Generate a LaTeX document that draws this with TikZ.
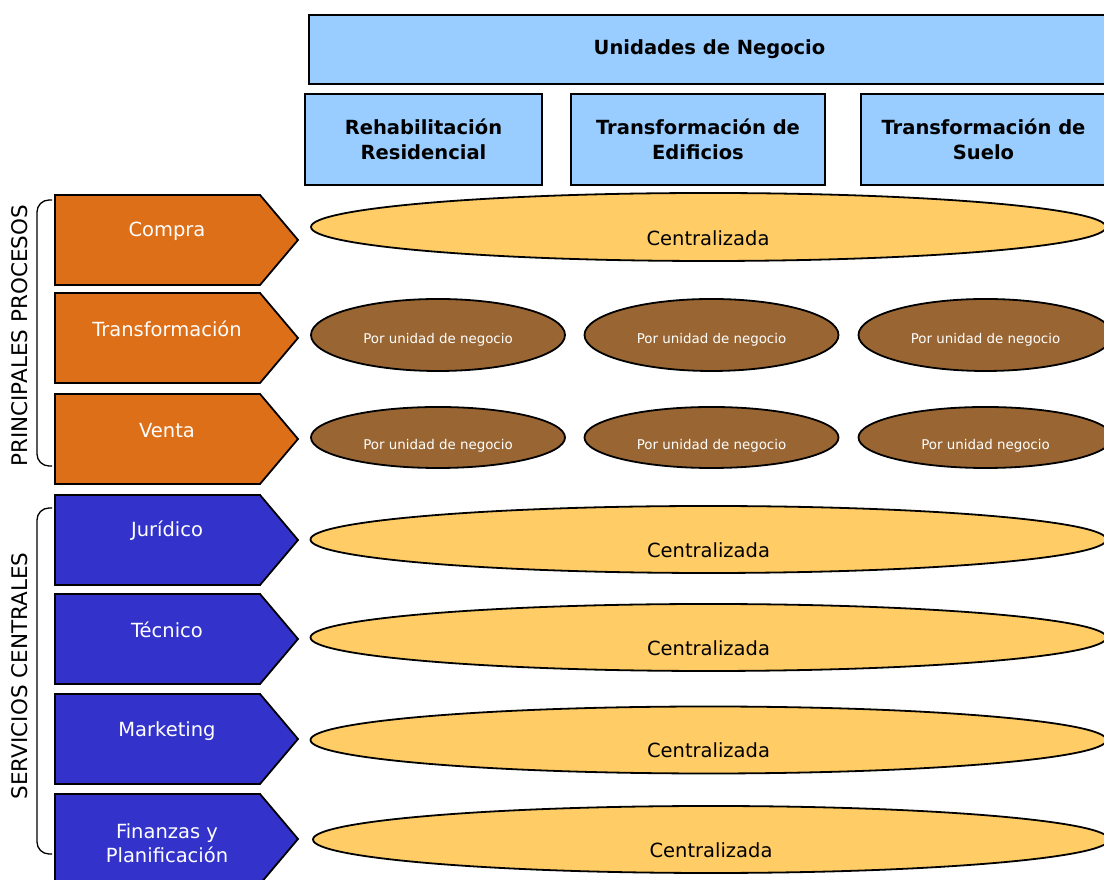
\documentclass[tikz,border=0pt]{standalone}
\usepackage{fontspec}
\setmainfont{DejaVu Sans}
\usetikzlibrary{shapes.geometric}
\definecolor{azulclaro}{HTML}{99CCFF}
\definecolor{naranja}{HTML}{DD6F19}
\definecolor{azul}{HTML}{3333CC}
\definecolor{amarillo}{HTML}{FFCC66}
\definecolor{marron}{HTML}{996633}

\begin{document}
\begin{tikzpicture}[x=1pt,y=1pt,
    unidad/.style={draw,line width=1.8pt,fill=azulclaro,align=center,font=\fontsize{19.5}{24.5}\selectfont\bfseries},
    proceso/.style={draw,line width=1.8pt,line join=miter},
    etiqueta/.style={text=white,align=center,font=\fontsize{19.5}{24.5}\selectfont},
    centr/.style={draw,line width=1.8pt,ellipse,fill=amarillo,inner sep=0pt},
    porunidad/.style={draw,line width=1.8pt,ellipse,fill=marron,inner sep=0pt,minimum width=254},
    txtcentr/.style={font=\fontsize{19.5}{24}\selectfont},
    txtunidad/.style={text=white,font=\fontsize{13.4}{16}\selectfont},
    grupo/.style={rotate=90,font=\fontsize{21.5}{26}\selectfont}]
    \useasboundingbox (0,0) rectangle (1104,880);
    \clip (0,0) rectangle (1104,880);

    \node[unidad,minimum width=801,minimum height=69] (negocio) at (709.5,830.5) {Unidades de Negocio};
    \node[unidad,minimum width=237,minimum height=91] (rehab) at (423.5,740.5) {Rehabilitación\\Residencial};
    \node[unidad,minimum width=254,minimum height=91] (edif) at (698,740.5) {Transformación de\\Edificios};
    \node[unidad,minimum width=245,minimum height=91] (suelo) at (983.5,740.5) {Transformación de\\Suelo};

    \foreach \t/\ty/\col/\nm/\txt in {685/649/naranja/compra/Compra, 587/551/naranja/transf/Transformación, 486/449/naranja/venta/Venta,
        385/349/azul/juridico/Jurídico, 286/250/azul/tecnico/Técnico, 186/149/azul/marketing/Marketing, 86/37/azul/finanzas/{Finanzas y\\Planificación}}{
        \draw[proceso,fill=\col] (55,\t) -- (260,\t) -- (298,\t-45) -- (260,\t-90) -- (55,\t-90) -- cycle;
        \node[etiqueta] (\nm) at (167,\ty) {\txt};
    }

    \draw[line width=1.3pt,rounded corners=12] (52,680) -- (37,680) -- (37,414) -- (52,414);
    \node[grupo] (principales) at (20,544) {PRINCIPALES PROCESOS};
    \draw[line width=1.3pt,rounded corners=12] (52,372) -- (37,372) -- (37,26) -- (52,26);
    \node[grupo] (servicios) at (20,204) {SERVICIOS CENTRALES};

    \node[centr,minimum width=795,minimum height=68] (ecompra) at (708.5,653) {};
    \node[txtcentr] (tcompra) at (708,642) {Centralizada};

    \foreach \x/\nm in {438/a,711.5/b,985.5/c}{
        \node[porunidad,minimum height=72] (etransf\nm) at (\x,545) {};
        \node[txtunidad] (ttransf\nm) at (\x,540) {Por unidad de negocio};
        \node[porunidad,minimum height=61] (eventa\nm) at (\x,442.5) {};
    }
    \node[txtunidad] (tventaa) at (438,434) {Por unidad de negocio};
    \node[txtunidad] (tventab) at (711.5,434) {Por unidad de negocio};
    \node[txtunidad] (tventac) at (985.5,434) {Por unidad negocio};

    \foreach \y/\x/\nm in {340.5/708.5/juridico, 242.5/708.5/tecnico, 140/708.5/marketing, 40.5/711/finanzas}{
        \node[centr,minimum width=796,minimum height=67] (e\nm) at (\x,\y) {};
        \node[txtcentr] (t\nm) at (\x,\y-10.5) {Centralizada};
    }
\end{tikzpicture}
\end{document}
